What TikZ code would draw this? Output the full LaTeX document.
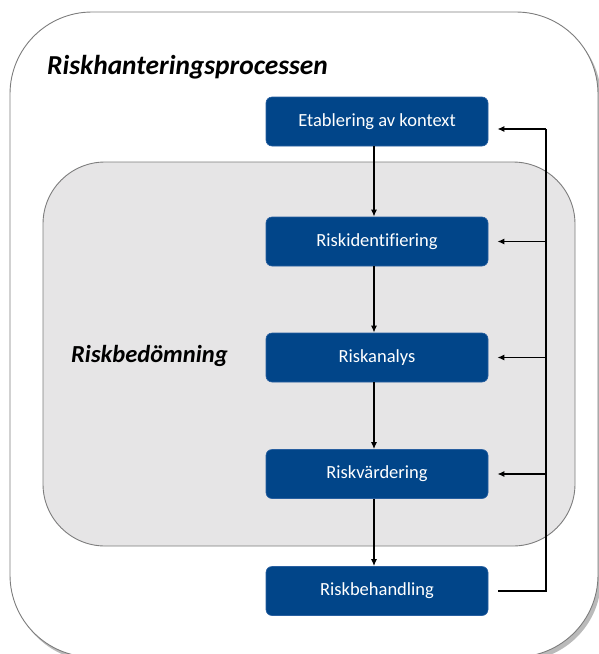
\documentclass[tikz,border=0pt]{standalone}
\usepackage{fontspec}
\setmainfont[Ligatures=NoCommon]{Carlito}
\usetikzlibrary{arrows.meta,shadows}
\definecolor{boxblue}{RGB}{1,69,137}
\definecolor{boxedge}{RGB}{40,95,160}
\definecolor{panelgray}{RGB}{230,229,230}
\definecolor{edgegray}{RGB}{125,125,125}
\tikzset{
  stepbox/.style={draw=boxedge,line width=0.6pt,fill=boxblue,rounded corners=6pt,
    minimum width=222pt,minimum height=49pt,inner sep=0pt,
    text=white,font=\fontsize{18.5}{20}\selectfont},
  flow/.style={line width=1.4pt,-{Latex[length=7pt,width=6pt]}},
  fline/.style={line width=1.4pt},
  heading/.style={font=\bfseries\itshape,inner sep=0pt,anchor=base west}
}
\begin{document}
\begin{tikzpicture}[x=1pt,y=-1pt]
\useasboundingbox (0,0) rectangle (599,654);
\fill[white] (0,0) rectangle (599,654);
% outer frame with shadow
\path[draw=edgegray,line width=0.9pt,fill=white,rounded corners=82pt,
  drop shadow={shadow xshift=3pt,shadow yshift=-4pt,opacity=0.45,fill=black!60}]
  (10,12) rectangle (598,657);
% inner panel
\path[draw=edgegray,line width=0.9pt,fill=panelgray,rounded corners=62pt]
  (43,162) rectangle (575,546);
\node[heading,font=\fontsize{27.4}{30}\selectfont\bfseries\itshape] (t1) at (47,74) {Riskhanteringsprocessen};
\node[heading,font=\fontsize{24.5}{27}\selectfont\bfseries\itshape] (t2) at (71,362) {Riskbedömning};
\node[stepbox] (e) at (377,121.5) {Etablering av kontext};
\node[stepbox] (i) at (377,241.5) {Riskidentifiering};
\node[stepbox] (a) at (377,357.5) {Riskanalys};
\node[stepbox] (v) at (377,474) {Riskvärdering};
\node[stepbox] (b) at (377,591) {Riskbehandling};
\draw[flow] ([xshift=-3pt]e.south) -- ([xshift=-3pt]i.north);
\draw[flow] ([xshift=-3pt]i.south) -- ([xshift=-3pt]a.north);
\draw[flow] ([xshift=-3pt]a.south) -- ([xshift=-3pt]v.north);
\draw[flow] ([xshift=-3pt]v.south) -- ([xshift=-3pt]b.north);
\coordinate (fbtop) at (546,129);
\coordinate (fbbot) at (546,591);
\draw[fline] ([xshift=10pt]b.east) -- (fbbot) -- (fbtop);
\draw[flow] (fbtop) -- ([xshift=9pt,yshift=-7.5pt]e.east);
\draw[flow] (fbtop |- i.east) -- ([xshift=9pt]i.east);
\draw[flow] (fbtop |- a.east) -- ([xshift=9pt]a.east);
\draw[flow] (fbtop |- v.east) -- ([xshift=9pt]v.east);
\end{tikzpicture}
\end{document}
